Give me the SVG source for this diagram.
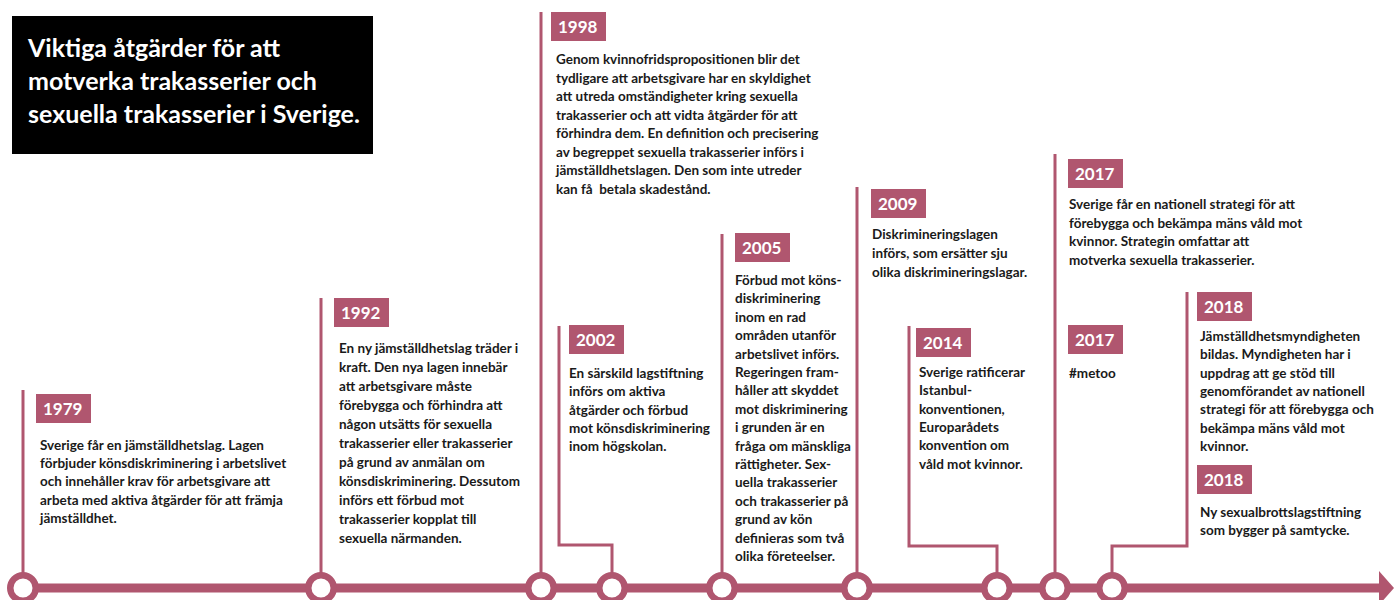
<svg xmlns="http://www.w3.org/2000/svg" width="1394" height="600" viewBox="0 0 1394 600">
<style>
.bg{fill:#ffffff}
.yb{fill:#b0566f}
.yt{fill:#ffffff;font-family:Lato,"Liberation Sans",sans-serif;font-weight:700;font-size:17px}
.tx{fill:#1a1a1a;font-family:Lato,"Liberation Sans",sans-serif;font-weight:700;font-size:13.5px}
.ttl{fill:#ffffff;font-family:Lato,"Liberation Sans",sans-serif;font-weight:700;font-size:25px}
.ln{fill:none;stroke:#b0566f;stroke-width:3}
.axis{fill:none;stroke:#b0566f;stroke-width:9}
.dot{fill:#ffffff;stroke:#b0566f;stroke-width:6.5}
</style>
<rect class="bg" x="0" y="0" width="1394" height="600"/>
<g id="title">
<rect x="12" y="16" width="361" height="138" fill="#000000"/>
<text class="ttl"><tspan x="28" y="57">Viktiga åtgärder för att</tspan><tspan x="28" y="90">motverka trakasserier och</tspan><tspan x="28" y="123">sexuella trakasserier i Sverige.</tspan></text>
</g>
<g id="connectors">
<line class="axis" x1="23" y1="588" x2="1382" y2="588"/>
<polygon points="1379,571 1394,588 1379,605" fill="#b0566f"/>
<line class="ln" x1="23" y1="390" x2="23" y2="575"/>
<line class="ln" x1="321" y1="298" x2="321" y2="575"/>
<line class="ln" x1="541" y1="12" x2="541" y2="575"/>
<path class="ln" d="M559,326 V545 H612 V575"/>
<line class="ln" x1="722" y1="234" x2="722" y2="575"/>
<line class="ln" x1="857" y1="187" x2="857" y2="575"/>
<path class="ln" d="M909,326 V546 H997 V575"/>
<line class="ln" x1="1055" y1="154" x2="1055" y2="575"/>
<path class="ln" d="M1187,292 V546 H1112 V575"/>
<circle class="dot" cx="23" cy="588" r="12.75"/>
<circle class="dot" cx="321" cy="588" r="12.75"/>
<circle class="dot" cx="541" cy="588" r="12.75"/>
<circle class="dot" cx="612" cy="588" r="12.75"/>
<circle class="dot" cx="722" cy="588" r="12.75"/>
<circle class="dot" cx="857" cy="588" r="12.75"/>
<circle class="dot" cx="997" cy="588" r="12.75"/>
<circle class="dot" cx="1055" cy="588" r="12.75"/>
<circle class="dot" cx="1112" cy="588" r="12.75"/>
</g>
<g id="e1979">
<rect class="yb" x="36" y="394" width="55" height="29"/>
<text class="yt" x="43" y="415">1979</text>
<text class="tx"><tspan x="40" y="450">Sverige får en jämställdhetslag. Lagen</tspan><tspan x="40" y="468.2">förbjuder könsdiskriminering i arbetslivet</tspan><tspan x="40" y="486.4">och innehåller krav för arbetsgivare att</tspan><tspan x="40" y="504.6">arbeta med aktiva åtgärder för att främja</tspan><tspan x="40" y="522.8">jämställdhet.</tspan></text>
</g>
<g id="e1992">
<rect class="yb" x="334" y="298" width="55" height="29"/>
<text class="yt" x="341" y="319">1992</text>
<text class="tx"><tspan x="339" y="353">En ny jämställdhetslag träder i</tspan><tspan x="339" y="372">kraft. Den nya lagen innebär</tspan><tspan x="339" y="391">att arbetsgivare måste</tspan><tspan x="339" y="410">förebygga och förhindra att</tspan><tspan x="339" y="429">någon utsätts för sexuella</tspan><tspan x="339" y="448">trakasserier eller trakasserier</tspan><tspan x="339" y="467">på grund av anmälan om</tspan><tspan x="339" y="486">könsdiskriminering. Dessutom</tspan><tspan x="339" y="505">införs ett förbud mot</tspan><tspan x="339" y="524">trakasserier kopplat till</tspan><tspan x="339" y="543">sexuella närmanden.</tspan></text>
</g>
<g id="e1998">
<rect class="yb" x="551" y="12" width="55" height="29"/>
<text class="yt" x="558" y="33">1998</text>
<text class="tx"><tspan x="556" y="64">Genom kvinnofridspropositionen blir det</tspan><tspan x="556" y="82.5">tydligare att arbetsgivare har en skyldighet</tspan><tspan x="556" y="101">att utreda omständigheter kring sexuella</tspan><tspan x="556" y="119.5">trakasserier och att vidta åtgärder för att</tspan><tspan x="556" y="138">förhindra dem. En definition och precisering</tspan><tspan x="556" y="156.5">av begreppet sexuella trakasserier införs i</tspan><tspan x="556" y="175">jämställdhetslagen. Den som inte utreder</tspan><tspan x="556" y="193.5">kan få&#160; betala skadestånd.</tspan></text>
</g>
<g id="e2002">
<rect class="yb" x="569" y="325" width="55" height="29"/>
<text class="yt" x="576" y="346">2002</text>
<text class="tx"><tspan x="569" y="378">En särskild lagstiftning</tspan><tspan x="569" y="396.3">införs om aktiva</tspan><tspan x="569" y="414.6">åtgärder och förbud</tspan><tspan x="569" y="432.9">mot könsdiskriminering</tspan><tspan x="569" y="451.2">inom högskolan.</tspan></text>
</g>
<g id="e2005">
<rect class="yb" x="735" y="233" width="55" height="29"/>
<text class="yt" x="742" y="254">2005</text>
<text class="tx"><tspan x="735" y="285">Förbud mot köns-</tspan><tspan x="735" y="303.4">diskriminering</tspan><tspan x="735" y="321.8">inom en rad</tspan><tspan x="735" y="340.2">områden utanför</tspan><tspan x="735" y="358.6">arbetslivet införs.</tspan><tspan x="735" y="377">Regeringen fram-</tspan><tspan x="735" y="395.4">håller att skyddet</tspan><tspan x="735" y="413.8">mot diskriminering</tspan><tspan x="735" y="432.2">i grunden är en</tspan><tspan x="735" y="450.6">fråga om mänskliga</tspan><tspan x="735" y="469">rättigheter. Sex-</tspan><tspan x="735" y="487.4">uella trakasserier</tspan><tspan x="735" y="505.8">och trakasserier på</tspan><tspan x="735" y="524.2">grund av kön</tspan><tspan x="735" y="542.6">definieras som två</tspan><tspan x="735" y="561">olika företeelser.</tspan></text>
</g>
<g id="e2009">
<rect class="yb" x="871" y="189" width="55" height="29"/>
<text class="yt" x="878" y="210">2009</text>
<text class="tx"><tspan x="872" y="239">Diskrimineringslagen</tspan><tspan x="872" y="257.8">införs, som ersätter sju</tspan><tspan x="872" y="276.6">olika diskrimineringslagar.</tspan></text>
</g>
<g id="e2014">
<rect class="yb" x="916" y="328" width="55" height="29"/>
<text class="yt" x="923" y="349">2014</text>
<text class="tx"><tspan x="919" y="377">Sverige ratificerar</tspan><tspan x="919" y="395.3">Istanbul-</tspan><tspan x="919" y="413.6">konventionen,</tspan><tspan x="919" y="431.9">Europarådets</tspan><tspan x="919" y="450.2">konvention om</tspan><tspan x="919" y="468.5">våld mot kvinnor.</tspan></text>
</g>
<g id="e2017a">
<rect class="yb" x="1068" y="159" width="55" height="29"/>
<text class="yt" x="1075" y="180">2017</text>
<text class="tx"><tspan x="1069" y="209">Sverige får en nationell strategi för att</tspan><tspan x="1069" y="227.6">förebygga och bekämpa mäns våld mot</tspan><tspan x="1069" y="246.2">kvinnor. Strategin omfattar att</tspan><tspan x="1069" y="264.8">motverka sexuella trakasserier.</tspan></text>
</g>
<g id="e2017b">
<rect class="yb" x="1068" y="325" width="55" height="29"/>
<text class="yt" x="1075" y="346">2017</text>
<text class="tx" x="1069" y="378">#metoo</text>
</g>
<g id="e2018a">
<rect class="yb" x="1197" y="292" width="55" height="29"/>
<text class="yt" x="1204" y="313">2018</text>
<text class="tx"><tspan x="1200" y="341">Jämställdhetsmyndigheten</tspan><tspan x="1200" y="359.3">bildas. Myndigheten har i</tspan><tspan x="1200" y="377.6">uppdrag att ge stöd till</tspan><tspan x="1200" y="395.9">genomförandet av nationell</tspan><tspan x="1200" y="414.2">strategi för att förebygga och</tspan><tspan x="1200" y="432.5">bekämpa mäns våld mot</tspan><tspan x="1200" y="450.8">kvinnor.</tspan></text>
</g>
<g id="e2018b">
<rect class="yb" x="1197" y="465" width="55" height="29"/>
<text class="yt" x="1204" y="486">2018</text>
<text class="tx"><tspan x="1200" y="517">Ny sexualbrottslagstiftning</tspan><tspan x="1200" y="535.3">som bygger på samtycke.</tspan></text>
</g>
</svg>
